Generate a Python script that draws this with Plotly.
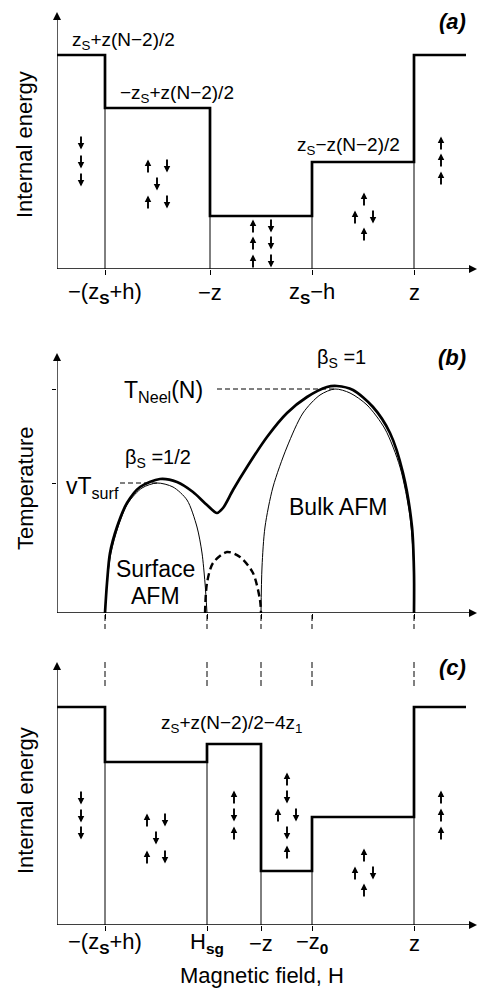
import plotly.graph_objects as go

FONT = "Liberation Sans, Arial, sans-serif"
W, H = 480, 988

# ---------------- data ----------------
# panel (a): field boundaries and energy levels
field_a = [48, 153, 255, 357]
level_a = [214, 161, 53, 107, 214]
ticks_a = ["−(z<sub><b>S</b></sub>+h)", "−z", "z<sub><b>S</b></sub>−h", "z"]

# panel (c)
field_c = [48, 150, 204, 255, 357]
level_c = [218, 163, 181, 54, 108, 218]
ticks_c = ["−(z<sub><b>S</b></sub>+h)", "H<sub><b>sg</b></sub>", "−z", "−z<sub><b>0</b></sub>", "z"]

x_start, x_end = 0, 409

# panel (b): phase boundaries (field, temperature)
b_thick_x = [48, 50, 53, 60, 70, 83, 103, 120, 136, 150, 160, 166, 176, 190, 210, 230, 250, 270, 280, 296, 316, 333, 346, 355, 357, 357]
b_thick_T = [0, 30, 60, 86, 110, 126, 134, 131, 121, 108, 100, 105, 123, 146, 176, 200, 216, 226, 227, 223, 206, 180, 140, 86, 40, 0]
b_surf_x = [48, 50, 54, 61, 71, 85, 100, 116, 130, 140, 145, 148, 150]
b_surf_T = [0, 30, 60, 86, 110, 125, 130, 126, 113, 86, 60, 30, 0]
b_bulk_x = [204, 205, 208, 216, 230, 246, 263, 278, 293, 310, 328, 343, 353, 357, 357]
b_bulk_T = [0, 46, 86, 126, 166, 200, 218, 224, 220, 208, 184, 146, 96, 40, 0]
b_dash_x = [148, 150, 156, 170, 183, 196, 203, 204]
b_dash_T = [0, 30, 50, 61, 56, 40, 13, 0]
field_b = [48, 150, 204, 255, 357]
T_neel, T_surf = 224, 130

# spin configurations (centre field, centre energy, direction +1 up / -1 down)
spin_a_x = [24, 24, 24, 91, 110, 100, 91, 110, 196, 196, 196, 214, 214, 214, 307, 298, 316, 307, 384, 384, 384]
spin_a_y = [126, 107, 89, 103, 103, 85, 67, 67, 43, 26, 8, 43, 26, 8, 70, 52, 52, 35, 126, 109, 91]
spin_a_d = [-1, -1, -1, 1, -1, -1, 1, -1, 1, 1, 1, -1, -1, -1, 1, 1, -1, 1, 1, 1, 1]

spin_c_x = [24, 24, 24, 90, 108, 99, 90, 108, 177, 177, 177, 230, 230, 221, 239, 230, 230, 307, 298, 316, 307, 384, 384, 384]
spin_c_y = [127, 109, 92, 105, 105, 87, 68, 68, 128, 110, 92, 146, 128, 110, 110, 92, 73, 70, 52, 52, 35, 128, 110, 92]
spin_c_d = [-1, -1, -1, 1, -1, -1, 1, -1, 1, -1, 1, 1, -1, 1, -1, -1, 1, 1, 1, -1, 1, 1, 1, 1]

# ---------------- figure ----------------
fig = go.Figure()

def py(p):
    return 1 - p / H

dom_x = [57 / W, 477 / W]
dom = {"": [py(269), py(12)], "2": [py(613), py(353)], "3": [py(925), py(662)]}
yr = {"": 257, "2": 260, "3": 263}
XR = 420

def step_xy(field, level):
    xs = [x_start] + list(field) + [x_end]
    ys = list(level) + [level[-1]]
    return xs, ys

def thin_xy(field, level):
    xs, ys = [], []
    for i, f in enumerate(field):
        xs += [f, f, None]
        ys += [0, min(level[i], level[i + 1]), None]
    return xs, ys

def add_line(xs, ys, sfx, width, **kw):
    fig.add_trace(go.Scatter(x=xs, y=ys, mode="lines", line=dict(color="black", width=width, **kw),
                             xaxis="x" + sfx, yaxis="y" + sfx, hoverinfo="skip", cliponaxis=False))

for sfx, field, level in [("", field_a, level_a), ("3", field_c, level_c)]:
    tx, ty = thin_xy(field, level)
    add_line(tx, ty, sfx, 1)
    sx, sy = step_xy(field, level)
    add_line(sx, sy, sfx, 2.7, shape="hv")

# panel (b)
add_line(b_surf_x, b_surf_T, "2", 1, shape="spline", smoothing=0.8)
add_line(b_bulk_x, b_bulk_T, "2", 1, shape="spline", smoothing=0.8)
add_line(b_thick_x, b_thick_T, "2", 2.7, shape="spline", smoothing=0.8)
add_line(b_dash_x, b_dash_T, "2", 2.4, dash="7px,4px", shape="spline", smoothing=0.8)
add_line([160, 278, None, 63, 100], [T_neel, T_neel, None, T_surf, T_surf], "2", 1, dash="5px,3px")

# axes drawn as arrows
for sfx in ["", "2", "3"]:
    add_line([XR - 3, 0, 0], [0, 0, yr[sfx] - 3], sfx, 1.3)
    fig.add_trace(go.Scatter(x=[XR, 0], y=[0, yr[sfx]], mode="markers",
                             marker=dict(symbol=["arrow-right", "arrow-up"], size=8, color="black", line=dict(width=0)),
                             xaxis="x" + sfx, yaxis="y" + sfx, hoverinfo="skip", cliponaxis=False))

# spins: stem + head
L = 13
for sfx, xs, ys, ds in [("", spin_a_x, spin_a_y, spin_a_d), ("3", spin_c_x, spin_c_y, spin_c_d)]:
    stx, sty, hx, hy, hs = [], [], [], [], []
    for x, y, d in zip(xs, ys, ds):
        tip = y + d * L / 2
        stx += [x, x, None]
        sty += [y - d * L / 2, tip - d * 2, None]
        hx.append(x)
        hy.append(tip)
        hs.append("arrow-up" if d > 0 else "arrow-down")
    add_line(stx, sty, sfx, 1.9)
    fig.add_trace(go.Scatter(x=hx, y=hy, mode="markers",
                             marker=dict(symbol=hs, size=6.5, color="black", line=dict(width=0)),
                             xaxis="x" + sfx, yaxis="y" + sfx, hoverinfo="skip", cliponaxis=False))

layout = dict(width=W, height=H, margin=dict(l=0, r=0, t=0, b=0), showlegend=False,
              plot_bgcolor="white", paper_bgcolor="white", font=dict(family=FONT, size=22, color="black"))

for sfx in ["", "2", "3"]:
    xa = dict(domain=dom_x, range=[0, XR], anchor="y" + sfx, showgrid=False, zeroline=False, showline=False,
              ticks="outside", ticklen=5, tickwidth=1, tickcolor="black", fixedrange=True, showticklabels=False)
    ya = dict(domain=dom[sfx], range=[0, yr[sfx]], anchor="x" + sfx, showgrid=False, zeroline=False, showline=False,
              showticklabels=False, ticks="", fixedrange=True)
    if sfx == "":
        xa.update(tickvals=field_a)
    elif sfx == "2":
        xa.update(tickvals=field_b)
        ya.update(tickvals=[T_surf, T_neel], ticks="outside", ticklen=4, tickcolor="black")
    else:
        xa.update(tickvals=field_c)
    layout["xaxis" + sfx] = xa
    layout["yaxis" + sfx] = ya

fig.update_layout(**layout)

ann = []

def plabel(text, px, pyy, size=22, **kw):
    d = dict(text=text, x=px / W, y=py(pyy), xref="paper", yref="paper", showarrow=False,
             xanchor="center", yanchor="middle", font=dict(family=FONT, size=size, color="black"))
    d.update(kw)
    ann.append(d)

# tick labels (placed at their field values)
for f, t in zip(field_a, ticks_a):
    ann.append(dict(text=t, x=f, xref="x", y=py(293), yref="paper", showarrow=False, xanchor="center",
                    yanchor="middle", font=dict(family=FONT, size=22, color="black")))
for f, t in zip(field_c, ticks_c):
    ann.append(dict(text=t, x=f, xref="x3", y=py(943), yref="paper", showarrow=False, xanchor="center",
                    yanchor="middle", font=dict(family=FONT, size=22, color="black")))

# panel letters
plabel("<b><i>(a)</i></b>", 452, 21)
plabel("<b><i>(b)</i></b>", 452, 357)
plabel("<b><i>(c)</i></b>", 452, 667)

# axis titles
plabel("Internal energy", 25, 145, textangle=-90)
plabel("Temperature", 25, 488, textangle=-90)
plabel("Internal energy", 25, 801, textangle=-90)
plabel("Magnetic field, H", 262, 975)

# panel (a) level labels
plabel("z<sub>S</sub>+z(N−2)/2", 70, 41, size=19, xanchor="left")
plabel("−z<sub>S</sub>+z(N−2)/2", 118, 94, size=19, xanchor="left")
plabel("z<sub>S</sub>−z(N−2)/2", 295, 146, size=19, xanchor="left")
# panel (c)
plabel("z<sub>S</sub>+z(N−2)/2−4z<sub>1</sub>", 159, 724, size=19, xanchor="left")

# panel (b) labels
plabel("β<sub>S</sub> =1", 315, 358, size=20, xanchor="left")
plabel("T<sub>Neel</sub>(N)", 122, 392, size=23, xanchor="left")
plabel("β<sub>S</sub> =1/2", 123, 458, size=20, xanchor="left")
plabel("vT<sub>surf</sub>", 64, 487, size=23, xanchor="left")
plabel("Bulk AFM", 338, 507, size=23)
plabel("Surface", 155, 569, size=23)
plabel("AFM", 155, 596, size=23)

fig.update_layout(annotations=ann)

# dashed guides between (b) and (c)
shapes = []
for f in field_b:
    for y0, y1 in [(615, 629), (662, 688)]:
        shapes.append(dict(type="line", xref="x2", yref="paper", x0=f, x1=f, y0=py(y0), y1=py(y1),
                           line=dict(color="black", width=1, dash="6px,3px")))
fig.update_layout(shapes=shapes)

fig.write_html("out.html", config={"displayModeBar": False, "staticPlot": True},
               post_script="document.body.style.margin='0';document.body.style.overflow='hidden';")
